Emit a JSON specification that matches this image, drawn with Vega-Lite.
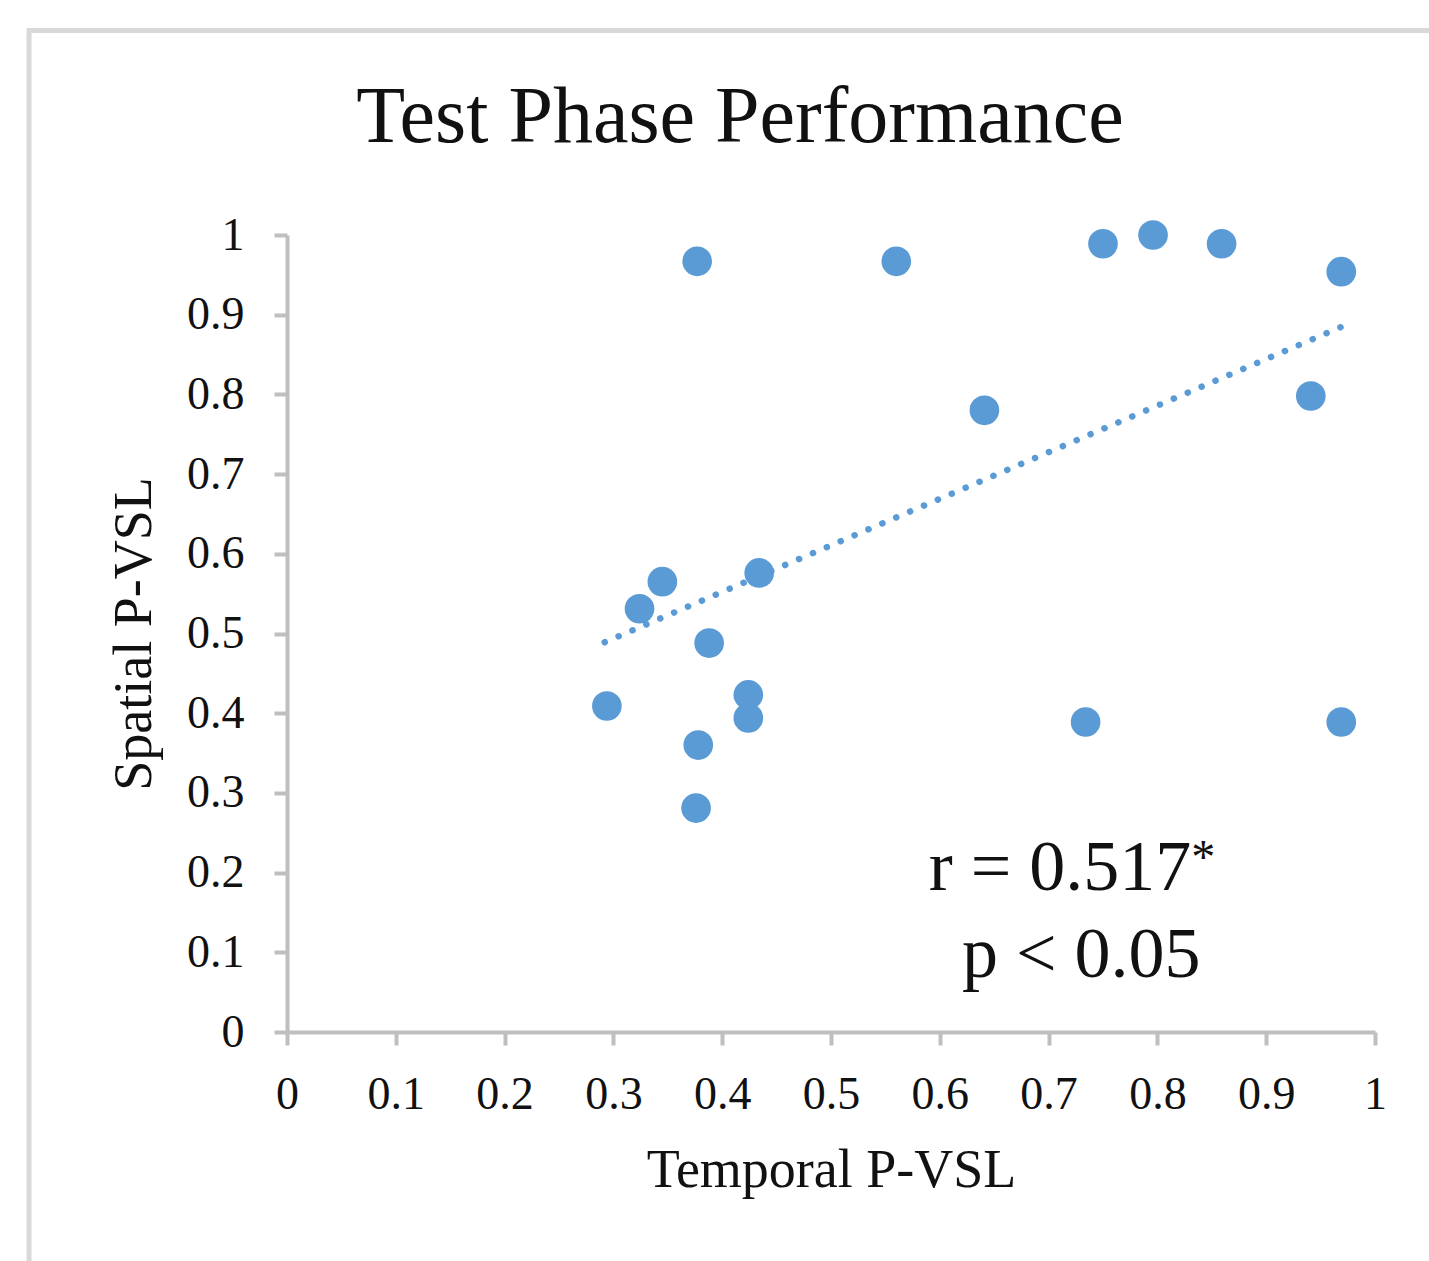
{
  "$schema": "https://vega.github.io/schema/vega-lite/v6.json",
  "width": 1088,
  "height": 797,
  "autosize": {"type": "none"},
  "padding": {"left": 287, "top": 235, "right": 54, "bottom": 229},
  "background": "white",
  "config": {
    "view": {"stroke": null},
    "font": "Liberation Serif",
    "axis": {
      "grid": false,
      "format": "~g",
      "tickCount": 10,
      "domainColor": "#bfbfbf", "domainWidth": 4,
      "tickColor": "#bfbfbf", "tickWidth": 4, "tickSize": 13,
      "labelFont": "Liberation Serif", "labelFontSize": 46, "labelColor": "#111111",
      "labelFlush": false,
      "titleFont": "Liberation Serif", "titleFontSize": 54, "titleFontWeight": "normal", "titleColor": "#111111"
    },
    "axisX": {"labelPadding": 27, "titlePadding": 26},
    "axisY": {"labelPadding": 30, "titlePadding": 25}
  },
  "title": {
    "text": "Test Phase Performance",
    "font": "Liberation Serif",
    "fontSize": 80,
    "fontWeight": "normal",
    "color": "#111111",
    "anchor": "middle",
    "baseline": "alphabetic",
    "dx": -91,
    "offset": -194
  },
  "datasets": {
    "points": [
      {"temporal": 0.377, "spatial": 0.967},
      {"temporal": 0.560, "spatial": 0.967},
      {"temporal": 0.750, "spatial": 0.989},
      {"temporal": 0.796, "spatial": 1.0},
      {"temporal": 0.859, "spatial": 0.989},
      {"temporal": 0.969, "spatial": 0.954},
      {"temporal": 0.641, "spatial": 0.780},
      {"temporal": 0.941, "spatial": 0.798},
      {"temporal": 0.345, "spatial": 0.565},
      {"temporal": 0.324, "spatial": 0.531},
      {"temporal": 0.434, "spatial": 0.576},
      {"temporal": 0.388, "spatial": 0.488},
      {"temporal": 0.294, "spatial": 0.409},
      {"temporal": 0.424, "spatial": 0.423},
      {"temporal": 0.424, "spatial": 0.394},
      {"temporal": 0.378, "spatial": 0.360},
      {"temporal": 0.376, "spatial": 0.281},
      {"temporal": 0.734, "spatial": 0.389},
      {"temporal": 0.969, "spatial": 0.389}
    ],
    "trend": [
      {"temporal": 0.292, "spatial": 0.489},
      {"temporal": 0.973, "spatial": 0.887}
    ],
    "one": [{}]
  },
  "layer": [
    {
      "data": {"name": "one"},
      "mark": {"type": "rect", "fill": null, "stroke": "#d9d9d9", "strokeWidth": 5},
      "encoding": {
        "x": {"datum": -0.2371, "type": "quantitative", "scale": {"domain": [0, 1]}, "title": "Temporal P-VSL"},
        "x2": {"datum": 1.2},
        "y": {"datum": 1.2565, "type": "quantitative", "scale": {"domain": [0, 1]}, "title": "Spatial P-VSL"},
        "y2": {"datum": -0.5}
      }
    },
    {
      "data": {"name": "trend"},
      "mark": {"type": "line", "color": "#5b9bd5", "strokeWidth": 6.5, "strokeDash": [0.1, 15], "strokeCap": "round"},
      "encoding": {
        "x": {"field": "temporal", "type": "quantitative", "scale": {"domain": [0, 1]}, "title": "Temporal P-VSL"},
        "y": {"field": "spatial", "type": "quantitative", "scale": {"domain": [0, 1]}, "title": "Spatial P-VSL"}
      }
    },
    {
      "data": {"name": "points"},
      "mark": {"type": "circle", "color": "#5b9bd5", "opacity": 1, "size": 880},
      "encoding": {
        "x": {"field": "temporal", "type": "quantitative", "scale": {"domain": [0, 1]}, "title": "Temporal P-VSL"},
        "y": {"field": "spatial", "type": "quantitative", "scale": {"domain": [0, 1]}, "title": "Spatial P-VSL"}
      }
    },
    {
      "data": {"name": "one"},
      "mark": {"type": "text", "text": "r = 0.517", "font": "Liberation Serif", "fontSize": 72, "align": "center", "baseline": "alphabetic", "color": "#111111"},
      "encoding": {
        "x": {"datum": 0.7105, "type": "quantitative", "scale": {"domain": [0, 1]}, "title": "Temporal P-VSL"},
        "y": {"datum": 0.178, "type": "quantitative", "scale": {"domain": [0, 1]}, "title": "Spatial P-VSL"}
      }
    },
    {
      "data": {"name": "one"},
      "mark": {"type": "text", "text": "*", "font": "Liberation Serif", "fontSize": 48, "align": "left", "baseline": "alphabetic", "color": "#111111"},
      "encoding": {
        "x": {"datum": 0.831, "type": "quantitative", "scale": {"domain": [0, 1]}, "title": "Temporal P-VSL"},
        "y": {"datum": 0.1995, "type": "quantitative", "scale": {"domain": [0, 1]}, "title": "Spatial P-VSL"}
      }
    },
    {
      "data": {"name": "one"},
      "mark": {"type": "text", "text": "p < 0.05", "font": "Liberation Serif", "fontSize": 72, "align": "center", "baseline": "alphabetic", "color": "#111111"},
      "encoding": {
        "x": {"datum": 0.730, "type": "quantitative", "scale": {"domain": [0, 1]}, "title": "Temporal P-VSL"},
        "y": {"datum": 0.069, "type": "quantitative", "scale": {"domain": [0, 1]}, "title": "Spatial P-VSL"}
      }
    }
  ]
}
